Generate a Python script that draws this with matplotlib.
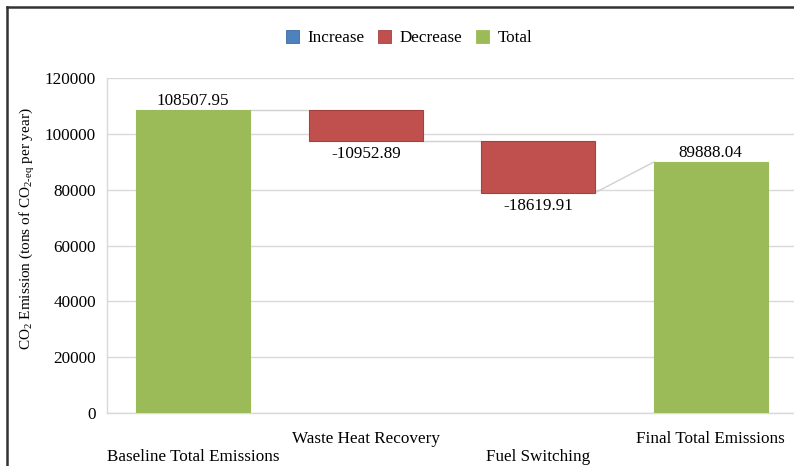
import matplotlib
matplotlib.use("Agg")
import matplotlib.pyplot as plt
from matplotlib.patches import Patch
from matplotlib.lines import Line2D

plt.rcParams['font.family'] = ['Liberation Serif', 'DejaVu Serif']
plt.rcParams['mathtext.fontset'] = 'custom'
plt.rcParams['mathtext.rm'] = 'Liberation Serif'
plt.rcParams['mathtext.it'] = 'Liberation Serif:italic'
FS = 12.3
plt.rcParams['font.size'] = FS

categories = ["Baseline Total Emissions", "Waste Heat Recovery", "Fuel Switching", "Final Total Emissions"]
values = [108507.95, -10952.89, -18619.91, 89888.04]
kinds = ["total", "decrease", "decrease", "total"]
legend_labels = ["Increase", "Decrease", "Total"]
yticks = [0, 20000, 40000, 60000, 80000, 100000, 120000]

colors = {"increase": "#4F81BD", "decrease": "#C0504D", "total": "#9BBB59"}
edges = {"increase": "#3A6A9F", "decrease": "#A4403D", "total": "#9BBB59"}

fig = plt.figure(figsize=(7.94, 4.66), dpi=100)
ax = fig.add_axes([107/794, 1-413/466, 690/794, 335/466])

width = 0.66
starts = []
ends = []
run = 0.0
for i, (v, k) in enumerate(zip(values, kinds)):
    if k == "total":
        b, h = 0, v
        starts.append(v); run = v; ends.append(v)
    else:
        starts.append(run); run += v; ends.append(run)
        b, h = min(starts[-1], ends[-1]), abs(v)
    ax.bar(i, h, bottom=b, width=width, color=colors[k], edgecolor=edges[k], linewidth=0.8, zorder=3)
    if k == "total":
        ax.text(i, b + h + 300, f"{v:.2f}", ha="center", va="bottom", fontsize=FS, zorder=4)
    else:
        ax.text(i, b - 2000, f"{v:.2f}", ha="center", va="top", fontsize=FS, zorder=4)

conn_color = "#D0D0D0"
for i in range(len(values) - 1):
    ax.plot([i + width/2, i + 1 - width/2], [ends[i], starts[i + 1]], color=conn_color, lw=1.0, zorder=2)

ax.set_xlim(-0.5, 3.5)
ax.set_ylim(0, 120000)
ax.set_yticks(yticks)
ax.set_yticklabels([str(t) for t in yticks])
ax.yaxis.grid(True, color="#D9D9D9", lw=1.0, zorder=0)
ax.set_axisbelow(True)
ax.tick_params(axis="y", length=0, pad=8, labelsize=FS)
ax.tick_params(axis="x", length=0, pad=13, labelsize=FS)
ax.set_xticks(range(len(categories)))
ax.set_xticklabels([("\n" + c) if i % 2 == 0 else c for i, c in enumerate(categories)], linespacing=1.15)
for s in ["top", "right"]:
    ax.spines[s].set_visible(False)
for s in ["left", "bottom"]:
    ax.spines[s].set_color("#D9D9D9")
    ax.spines[s].set_linewidth(1.0)

ax.set_ylabel(r"CO$_2$ Emission (tons of CO$_{2\text{-eq}}$ per year)", fontsize=11)
ax.yaxis.set_label_coords(-0.1015, 0.551)

handles = [Patch(facecolor=colors[k], edgecolor=edges[k], linewidth=0.6) for k in ["increase", "decrease", "total"]]
fig.legend(handles, legend_labels, loc="center", bbox_to_anchor=(0.5155, 0.918), ncol=3, frameon=False,
           handlelength=0.75, handleheight=0.75, handletextpad=0.5, columnspacing=0.8, fontsize=FS)

fig.add_artist(Line2D([7/794, 7/794], [0, 1-7/466], transform=fig.transFigure, color="#333333", lw=1.8))
fig.add_artist(Line2D([7/794, 1], [1-7/466, 1-7/466], transform=fig.transFigure, color="#333333", lw=1.8))

fig.savefig("out.png", dpi=100)
